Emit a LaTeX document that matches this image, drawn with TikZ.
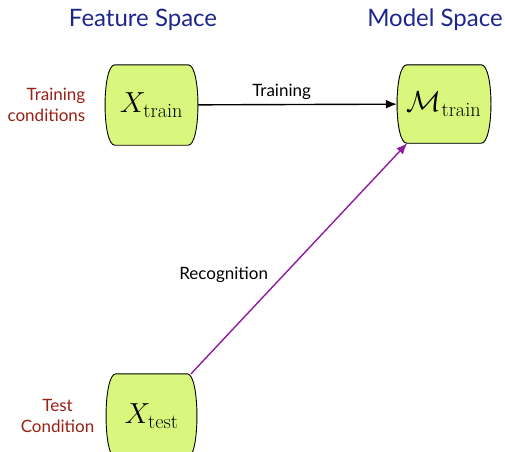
\RequirePackage{fix-cm}
\documentclass[tikz,border=0pt]{standalone}
\usepackage{amsmath}
\usepackage{fontspec}
\setsansfont{Lato}
\usepackage{tikz}
\usetikzlibrary{positioning,backgrounds,arrows.meta}

\definecolor{barrelgreen}{RGB}{216,247,124}
\definecolor{spaceblue}{RGB}{30,38,140}
\definecolor{condred}{RGB}{152,32,20}
\definecolor{recogpurple}{RGB}{142,28,158}

% barrel outline drawn round a named node
\newcommand{\drawbarrel}[2][]{%
  \draw[#1] ([xshift=10pt]#2.north west) -- ([xshift=-10pt]#2.north east)
    .. controls ([xshift=3pt]#2.north east) and ([xshift=3pt]#2.south east) .. ([xshift=-10pt]#2.south east)
    -- ([xshift=10pt]#2.south west)
    .. controls ([xshift=-3pt]#2.south west) and ([xshift=-3pt]#2.north west) .. cycle;}

\begin{document}
\begin{tikzpicture}[x=1pt,y=-1pt,
    barrel/.style={minimum width=93pt, minimum height=80pt, inner sep=0pt, font=\fontsize{29}{32}\selectfont},
    barrelfill/.style={draw=black, line width=0.9pt, fill=barrelgreen},
    spacehead/.style={font=\sffamily\fontsize{24}{28}\selectfont, text=spaceblue},
    condlabel/.style={font=\sffamily\fontsize{17}{21}\selectfont, text=condred},
    arrowlabel/.style={font=\sffamily\fontsize{17}{20}\selectfont}]
  \useasboundingbox (0,0) rectangle (505,451);

  \node[spacehead] (feathead) at (143,20) {Feature Space};
  \node[spacehead] (modhead) at (435,20) {Model Space};

  \node[barrel] (xtrain) at (151.5,105) {$X_{\mathrm{train}}$};
  \node[barrel, minimum width=94pt, minimum height=78pt] (mtrain) at (444,104) {$\mathcal{M}_{\mathrm{train}}$};
  \node[barrel, minimum width=91pt, minimum height=84pt] (xtest) at (151.5,416) {$X_{\mathrm{test}}$};

  \begin{scope}[on background layer]
    \begin{scope}[xshift=1.5pt, yshift=-2pt]
      \drawbarrel[fill=black!45, opacity=0.5]{mtrain}
    \end{scope}
    \drawbarrel[barrelfill]{xtrain}
    \drawbarrel[barrelfill]{mtrain}
    \drawbarrel[barrelfill]{xtest}
  \end{scope}

  \node[condlabel, align=right, left=16pt of xtrain] (traincond) {Training\\conditions};
  \node[condlabel, align=center, left=8pt of xtest] (testcond) {Test\\Condition};

  \draw[line width=1.4pt, -{Latex[length=11pt,width=9pt]}] (xtrain) -- node[arrowlabel, pos=0.42, above=1pt] {Training} (mtrain);
  \draw[recogpurple, line width=1.4pt, -{Latex[length=11pt,width=9pt]}] (xtest) -- node[arrowlabel, text=black, pos=0.43, left=12pt] {Recognition} (mtrain);
\end{tikzpicture}
\end{document}
